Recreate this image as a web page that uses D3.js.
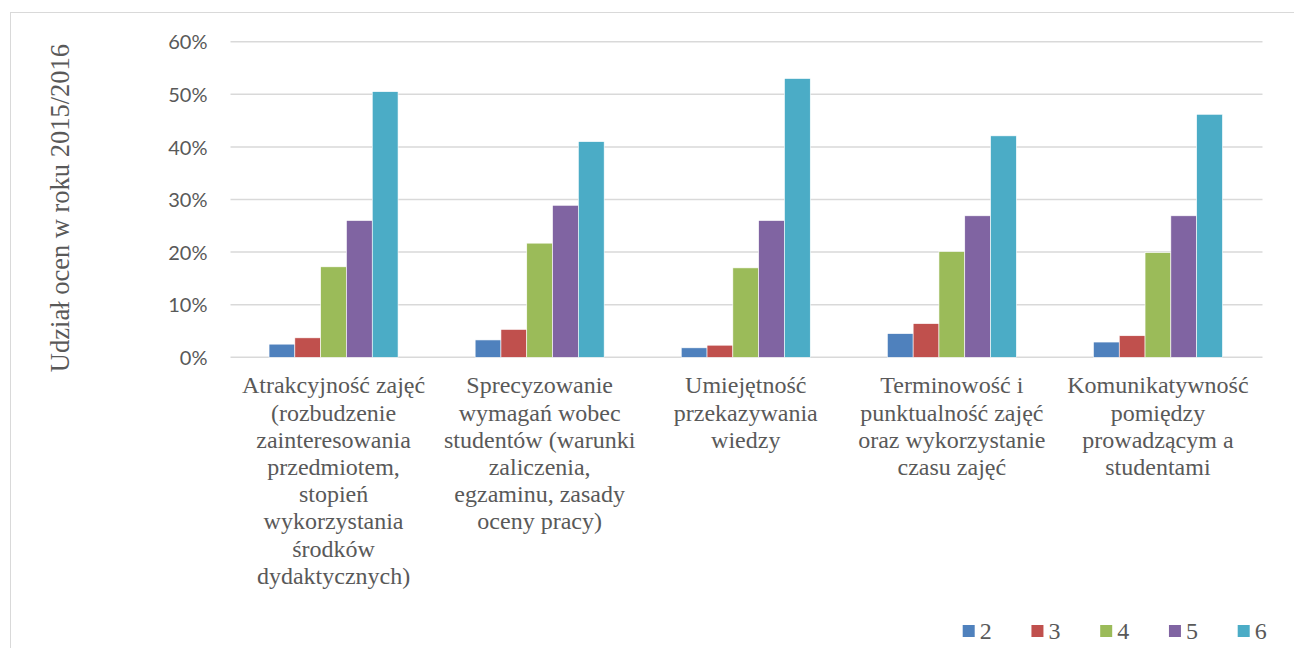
<!DOCTYPE html>
<html>
<head>
<meta charset="utf-8">
<script src="https://cdn.jsdelivr.net/npm/d3@7"></script>
<style>
  html, body { margin: 0; padding: 0; background: #fff; }
  svg { display: block; }
  .serif { font-family: "Liberation Serif", Tinos, "Times New Roman", "DejaVu Serif", serif; }
</style>
</head>
<body>
<svg id="chart" width="1294" height="648"></svg>
<script>
// Category labels, one entry per line of each wrapped label
const categories = [
  ["Atrakcyjność zajęć", "(rozbudzenie", "zainteresowania", "przedmiotem,", "stopień", "wykorzystania", "środków", "dydaktycznych)"],
  ["Sprecyzowanie", "wymagań wobec", "studentów (warunki", "zaliczenia,", "egzaminu, zasady", "oceny pracy)"],
  ["Umiejętność", "przekazywania", "wiedzy"],
  ["Terminowość i", "punktualność zajęć", "oraz wykorzystanie", "czasu zajęć"],
  ["Komunikatywność", "pomiędzy", "prowadzącym a", "studentami"]
];

// Grade series (share of ratings, in %)
const seriesNames = ["2", "3", "4", "5", "6"];
const grade2 = [2.5, 3.3, 1.8, 4.5, 2.9];
const grade3 = [3.7, 5.3, 2.3, 6.4, 4.1];
const grade4 = [17.2, 21.7, 17.0, 20.1, 19.9];
const grade5 = [26.0, 28.9, 26.0, 26.9, 26.9];
const grade6 = [50.5, 41.0, 53.0, 42.1, 46.2];
const seriesValues = [grade2, grade3, grade4, grade5, grade6];

const yTicks = [0, 10, 20, 30, 40, 50, 60];
const yTitle = "Udział ocen w roku 2015/2016";

const colors = ["#4F81BD", "#C0504D", "#9BBB59", "#8064A2", "#4BACC6"];

const svg = d3.select("#chart");

// chart frame
svg.append("rect")
  .attr("x", 10.5).attr("y", 12.5)
  .attr("width", 1400).attr("height", 800)
  .attr("fill", "none")
  .attr("stroke", "#D9D9D9")
  .attr("stroke-width", 1);

const plotLeft = 230.5, plotRight = 1261, plotTop = 41.7, plotBottom = 357.3;

const x0 = d3.scaleBand()
  .domain(d3.range(categories.length))
  .range([plotLeft, plotRight])
  .paddingInner(0.374)
  .paddingOuter(0.187);

const x1 = d3.scaleBand()
  .domain(seriesNames)
  .range([0, x0.bandwidth()]);

const y = d3.scaleLinear()
  .domain([0, 60])
  .range([plotBottom, plotTop]);

// horizontal gridlines
svg.append("g")
  .selectAll("line")
  .data(yTicks)
  .join("line")
  .attr("x1", plotLeft)
  .attr("x2", plotRight + 1.5)
  .attr("y1", d => y(d))
  .attr("y2", d => y(d))
  .attr("stroke", "#D9D9D9")
  .attr("stroke-width", 1.5);

// y axis labels
const yAxis = d3.axisLeft(y)
  .tickValues(yTicks)
  .tickSize(0)
  .tickPadding(0)
  .tickFormat(d => d + "%");

svg.append("g")
  .attr("transform", `translate(207.5,0)`)
  .call(yAxis)
  .call(g => g.select(".domain").remove())
  .call(g => g.selectAll("text")
    .attr("fill", "#595959")
    .attr("font-family", "Lato, 'Open Sans', sans-serif")
    .attr("font-size", "20px")
    .attr("dy", "0.36em"));

// bars
const groups = svg.append("g")
  .selectAll("g")
  .data(categories.map((c, i) => i))
  .join("g")
  .attr("transform", i => `translate(${x0(i)},0)`);

groups.selectAll("rect")
  .data(i => seriesNames.map((s, k) => ({ s, v: seriesValues[k][i], k })))
  .join("rect")
  .attr("x", d => x1(d.s))
  .attr("width", x1.bandwidth())
  .attr("y", d => y(d.v))
  .attr("height", d => y(0) - y(d.v))
  .attr("fill", d => colors[d.k])
  .attr("stroke", "#ffffff")
  .attr("stroke-width", 0.6);

// category labels
const labelG = svg.append("g")
  .attr("class", "serif")
  .attr("font-size", "24px")
  .attr("fill", "#595959")
  .attr("text-anchor", "middle");

categories.forEach((lines, i) => {
  const cx = x0(i) + x0.bandwidth() / 2;
  const t = labelG.append("text")
    .attr("x", cx)
    .attr("y", 393.3);
  lines.forEach((ln, j) => {
    t.append("tspan")
      .attr("x", cx)
      .attr("y", 393.3 + j * 27.2)
      .text(ln);
  });
});

// y axis title
svg.append("text")
  .attr("class", "serif")
  .attr("transform", `translate(68.5,208) rotate(-90)`)
  .attr("text-anchor", "middle")
  .attr("font-size", "26.5px")
  .attr("fill", "#595959")
  .text(yTitle);

// legend
const legend = svg.append("g")
  .selectAll("g")
  .data(seriesNames)
  .join("g")
  .attr("transform", (d, i) => `translate(${962.7 + i * 68.75},0)`);

legend.append("rect")
  .attr("x", 0).attr("y", 625)
  .attr("width", 12).attr("height", 12)
  .attr("fill", (d, i) => colors[i]);

legend.append("text")
  .attr("class", "serif")
  .attr("x", 17)
  .attr("y", 639.3)
  .attr("font-size", "24px")
  .attr("fill", "#595959")
  .text(d => d);
</script>
</body>
</html>
